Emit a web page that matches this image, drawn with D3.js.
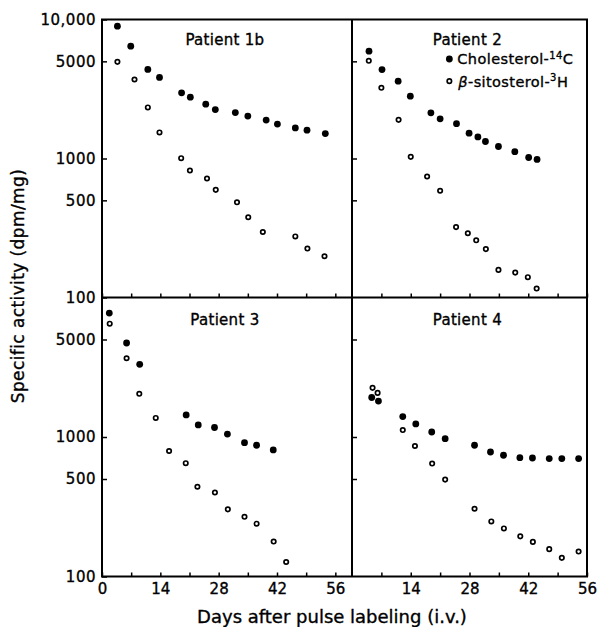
<!DOCTYPE html>
<html><head><meta charset="utf-8">
<script src="https://cdn.jsdelivr.net/npm/d3@7"></script>
<style>body{margin:0;background:#fff}svg{display:block}text{font-family:"DejaVu Sans",sans-serif;fill:#000;stroke:#000;stroke-width:0.35px}</style>
</head><body><svg id="c" width="597" height="627"></svg>
<script>
// ---- data (days after pulse labeling, specific activity dpm/mg) ----
const panelNames = ["Patient 1b", "Patient 2", "Patient 3", "Patient 4"];

const p1bCholDays = [3.7, 6.9, 11, 13.8, 19.1, 21.2, 24.9, 27.2, 32, 35, 39.4, 42.1, 46.4, 49.2, 53.6];
const p1bCholVals = [8950, 6430, 4370, 3830, 2970, 2760, 2460, 2250, 2140, 2020, 1890, 1770, 1660, 1600, 1510];
const p1bSitoDays = [3.7, 7.8, 11, 13.8, 19, 21.1, 25.2, 27.3, 32.4, 35.1, 38.6, 46.4, 49.3, 53.4];
const p1bSitoVals = [4960, 3700, 2330, 1540, 1005, 820, 718, 595, 484, 378, 296, 275, 225, 198];

const p2CholDays = [4.05, 7.15, 11, 13.9, 18.8, 21, 24.9, 27.9, 30, 31.8, 34.9, 38.8, 42.1, 44.1];
const p2CholVals = [5915, 4365, 3600, 2806, 2130, 1930, 1780, 1520, 1430, 1325, 1220, 1120, 1017, 984];
const p2SitoDays = [4, 7, 11.1, 14, 17.9, 21, 24.8, 27.6, 29.6, 31.9, 34.9, 38.9, 41.9, 44];
const p2SitoVals = [5047, 3226, 1897, 1028, 742, 586, 321, 290, 258, 223, 158, 151, 140, 116];

const p3CholDays = [1.75, 5.9, 9.05, 20.2, 23.1, 27, 30.1, 34.2, 37.1, 41.1];
const p3CholVals = [7730, 4720, 3320, 1440, 1220, 1170, 1050, 910, 873, 808];
const p3SitoDays = [1.85, 5.9, 8.95, 12.9, 16.1, 20.1, 22.9, 27.1, 30.2, 34.2, 37.1, 41.2, 44.2];
const p3SitoVals = [6490, 3670, 2040, 1370, 794, 649, 440, 400, 303, 268, 239, 178, 127];

const p4CholDays = [4.7, 6.3, 12.1, 15.2, 19, 22.2, 29.2, 33, 36.1, 40, 43, 47, 50, 54];
const p4CholVals = [1920, 1810, 1400, 1240, 1086, 973, 873, 781, 740, 711, 707, 700, 700, 700];
const p4SitoDays = [4.9, 6.1, 12.1, 15, 19.1, 22.2, 29.2, 33.2, 36.2, 40.1, 43.1, 47, 50, 54];
const p4SitoVals = [2250, 2070, 1122, 862, 645, 495, 306, 248, 221, 194, 177, 157, 136, 151];

const xTicks = [0, 7, 14, 21, 28, 35, 42, 49, 56];
const xTickLabels = [0, 14, 28, 42, 56];
const yTicksTop = [100, 500, 1000, 5000, 10000];
const yTicksBottom = [100, 500, 1000, 5000];
const legendLabels = ["Cholesterol-", "-sitosterol-"];

// ---- layout ----
const svg = d3.select("#c");
const L = 102, M = 352, R = 587, T = 19.5, H = 297.5, B = 576.5;

const xLeft = d3.scaleLinear().domain([0, 60]).range([L, M]);
const xRight = d3.scaleLinear().domain([0, 56]).range([M, R]);
const yTop = d3.scaleLog().domain([100, 10000]).range([H, T]);
const yBot = d3.scaleLog().domain([100, 10000]).range([B, H]);

const panels = [
  {name: panelNames[0], x: xLeft, y: yTop, cd: p1bCholDays, cv: p1bCholVals, sd: p1bSitoDays, sv: p1bSitoVals, left: true, bottom: false},
  {name: panelNames[1], x: xRight, y: yTop, cd: p2CholDays, cv: p2CholVals, sd: p2SitoDays, sv: p2SitoVals, left: false, bottom: false},
  {name: panelNames[2], x: xLeft, y: yBot, cd: p3CholDays, cv: p3CholVals, sd: p3SitoDays, sv: p3SitoVals, left: true, bottom: true},
  {name: panelNames[3], x: xRight, y: yBot, cd: p4CholDays, cv: p4CholVals, sd: p4SitoDays, sv: p4SitoVals, left: false, bottom: true}
];

const fmt = d => d === 10000 ? "10,000" : String(d);

panels.forEach(p => {
  const x0 = p.x.range()[0];
  const yBase = p.y.range()[0];
  // y axis (ticks inward)
  const yAx = d3.axisLeft(p.y)
    .tickValues(p.left ? (p.bottom ? yTicksBottom : yTicksTop) : [500, 1000, 5000])
    .tickSizeInner(-5).tickSizeOuter(0).tickPadding(6)
    .tickFormat(p.left ? fmt : () => "");
  const gy = svg.append("g").attr("transform", `translate(${x0},0)`).call(yAx);
  gy.select(".domain").remove();
  gy.selectAll("line").attr("stroke", "#000").attr("stroke-width", 1.5);
  gy.selectAll("text").style("font-size", "15px").style("letter-spacing", "0.5px").attr("fill", "#000");

  // x axis (ticks inward)
  const tv = p.left ? xTicks : xTicks.filter(d => d > 0);
  const xAx = d3.axisBottom(p.x).tickValues(tv)
    .tickSizeInner(-4).tickSizeOuter(0).tickPadding(7)
    .tickFormat(d => (p.bottom && xTickLabels.includes(d)) ? d : "");
  const gx = svg.append("g").attr("transform", `translate(0,${yBase})`).call(xAx);
  gx.select(".domain").remove();
  gx.selectAll("line").attr("stroke", "#000").attr("stroke-width", 1.5);
  gx.selectAll("text").style("font-size", "15px").attr("fill", "#000");

  // points
  const g = svg.append("g");
  g.selectAll("circle.c").data(d3.zip(p.cd, p.cv)).join("circle").attr("class", "c")
    .attr("cx", d => p.x(d[0])).attr("cy", d => p.y(d[1])).attr("r", 3.4).attr("fill", "#000");
  g.selectAll("circle.s").data(d3.zip(p.sd, p.sv)).join("circle").attr("class", "s")
    .attr("cx", d => p.x(d[0])).attr("cy", d => p.y(d[1])).attr("r", 2.2)
    .attr("fill", "#fff").attr("stroke", "#000").attr("stroke-width", 1.7);

  // panel title
  svg.append("text").attr("x", p.x(p.left ? 29.5 : 27.5)).attr("y", p.y.range()[1] + (p.bottom ? 27 : 25.5))
    .attr("text-anchor", "middle").style("font-size", "15px").style("letter-spacing", "0.3px").text(p.name);
});

// frame
svg.append("rect").attr("x", L).attr("y", T).attr("width", R - L).attr("height", B - T)
  .attr("fill", "none").attr("stroke", "#000").attr("stroke-width", 2);
svg.append("line").attr("x1", M).attr("x2", M).attr("y1", T).attr("y2", B).attr("stroke", "#000").attr("stroke-width", 2);
svg.append("line").attr("x1", L).attr("x2", R).attr("y1", H).attr("y2", H).attr("stroke", "#000").attr("stroke-width", 2);

// legend (in Patient 2 panel)
const lx = xRight(23.2);
svg.append("circle").attr("cx", lx).attr("cy", yTop(5200)).attr("r", 3.4).attr("fill", "#000");
svg.append("circle").attr("cx", lx).attr("cy", yTop(3600)).attr("r", 2.2).attr("fill", "#fff").attr("stroke", "#000").attr("stroke-width", 1.7);
const t1 = svg.append("text").attr("x", lx + 8).attr("y", yTop(5200) + 5.5).style("font-size", "14.5px").style("letter-spacing", "0.4px");
t1.append("tspan").text(legendLabels[0]);
t1.append("tspan").attr("dy", -5.5).style("font-size", "10px").text("14");
t1.append("tspan").attr("dy", 5.5).text("C");
const t2 = svg.append("text").attr("x", lx + 9).attr("y", yTop(3600) + 5.5).style("font-size", "14.5px").style("letter-spacing", "0.4px");
t2.append("tspan").style("font-style", "italic").text("β");
t2.append("tspan").text(legendLabels[1]);
t2.append("tspan").attr("dy", -5.5).style("font-size", "10px").text("3");
t2.append("tspan").attr("dy", 5.5).text("H");

// axis titles
svg.append("text").attr("transform", `translate(24,${(T + B) / 2 - 12}) rotate(-90)`)
  .attr("text-anchor", "middle").style("font-size", "17px").style("letter-spacing", "0.4px")
  .text("Specific activity (dpm/mg)");
svg.append("text").attr("x", 332).attr("y", 623).attr("text-anchor", "middle")
  .style("font-size", "18px").text("Days after pulse labeling (i.v.)");
</script></body></html>
